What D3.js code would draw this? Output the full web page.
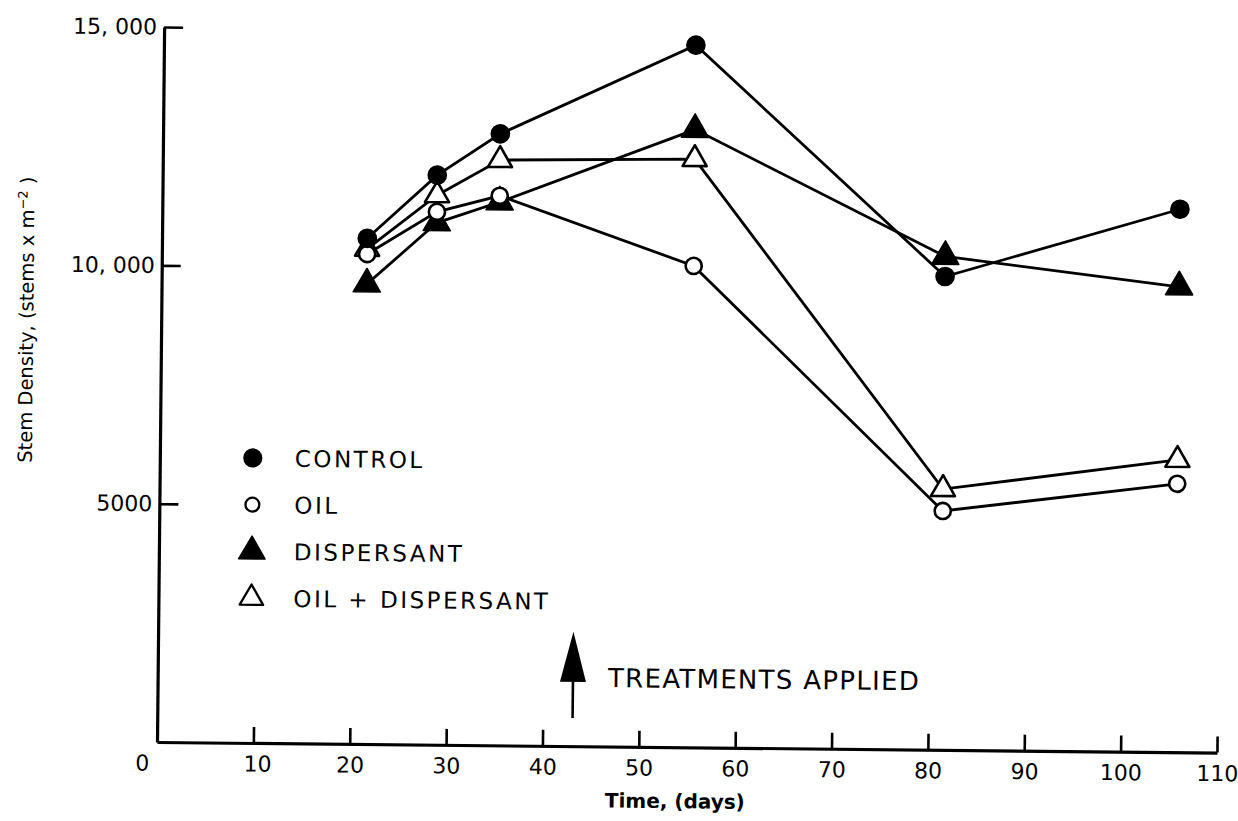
<!DOCTYPE html>
<html>
<head>
<meta charset="utf-8">
<script src="https://cdn.jsdelivr.net/npm/d3@7"></script>
<style>
  body { margin: 0; background: #fff; }
  svg text { font-family: "DejaVu Sans", sans-serif; fill: #000; }
</style>
</head>
<body>
<div id="chart"></div>
<script>
// DATA
const days = [21.3, 28.5, 35, 55.2, 81.3, 105.6];
const control = [10610, 11950, 12830, 14730, 9930, 11390];
const oil = [10280, 11180, 11530, 10100, 5010, 5630];
const dispersant = [9650, 10950, 11400, 12960, 10350, 9760];
const oilDispersant = [10390, 11530, 12280, 12340, 5470, 6130];

const seriesNames = ['CONTROL', 'OIL', 'DISPERSANT', 'OIL + DISPERSANT'];
const xTickValues = [0, 10, 20, 30, 40, 50, 60, 70, 80, 90, 100, 110];
const yTickValues = [5000, 10000, 15000];
const yTickLabels = ['5000', '10, 000', '15, 000'];

const treatmentDay = 43.1;
const treatmentArrow = [590, 1350, 2400]; // shaft bottom, head base, tip (stems)

const width = 1238, height = 821;
const margin = {left: 157, top: 27};
const plotW = 1060, plotH = 715;

const svg = d3.select('#chart').append('svg')
  .attr('width', width)
  .attr('height', height);

// the scanned figure is slightly rotated
const g = svg.append('g')
  .attr('transform', 'translate(' + margin.left + ',' + (margin.top + plotH) + ') rotate(0.57) translate(0,' + (-plotH) + ')');

// SCALES
const x = d3.scaleLinear().domain([0, 110]).range([0, plotW]);
const y = d3.scaleLinear().domain([0, 15000]).range([plotH, 0]);

// AXES
const xAxis = d3.axisBottom(x).tickValues(xTickValues)
  .tickSizeInner(-16).tickSizeOuter(0).tickPadding(13);

const xg = g.append('g')
  .attr('class', 'x axis')
  .attr('transform', 'translate(0,' + plotH + ')')
  .call(xAxis);

xg.selectAll('text')
  .style('font-size', '22px')
  .attr('dx', d => d === 0 ? -15 : (d === 10 ? 4 : 0));

const yAxis = d3.axisLeft(y).tickValues(yTickValues)
  .tickFormat((d, i) => yTickLabels[i])
  .tickSizeInner(-19).tickSizeOuter(0).tickPadding(7);

const yg = g.append('g')
  .attr('class', 'y axis')
  .call(yAxis);

yg.selectAll('text').style('font-size', '22px');

[xg, yg].forEach(a => {
  a.attr('font-family', null);
  a.select('.domain').attr('stroke-width', 3.2).attr('stroke', '#000');
  a.selectAll('.tick line').attr('stroke-width', 2.6).attr('stroke', '#000');
});

// AXIS TITLES
g.append('text')
  .attr('x', x(53.8))
  .attr('y', plotH + 61)
  .attr('text-anchor', 'middle')
  .style('font-size', '20px')
  .style('font-weight', 'bold')
  .text('Time, (days)');

const yTitle = g.append('text')
  .attr('transform', 'translate(-128,' + (plotH - 421) + ') rotate(-90)')
  .attr('text-anchor', 'middle')
  .style('font-size', '19.5px');
yTitle.append('tspan').text('Stem Density,  (stems x m');
yTitle.append('tspan').attr('baseline-shift', 'super').style('font-size', '13px').text('\u22122');
yTitle.append('tspan').text(' )');

// SERIES
const series = [
  {name: seriesNames[0], values: control, shape: d3.symbolCircle, size: 260, filled: true},
  {name: seriesNames[1], values: oil, shape: d3.symbolCircle, size: 205, filled: false},
  {name: seriesNames[2], values: dispersant, shape: d3.symbolTriangle, size: 320, filled: true},
  {name: seriesNames[3], values: oilDispersant, shape: d3.symbolTriangle, size: 250, filled: false}
];

const line = d3.line()
  .x((d, i) => x(days[i]))
  .y(d => y(d));

g.selectAll('.series-line')
  .data(series)
  .enter().append('path')
  .attr('class', 'series-line')
  .attr('d', d => line(d.values))
  .attr('fill', 'none')
  .attr('stroke', '#000')
  .attr('stroke-width', 2.8);

// draw order: dispersant, oil+dispersant, oil, control
const drawOrder = [series[2], series[3], series[1], series[0]];

drawOrder.forEach(s => {
  g.append('g').selectAll('path')
    .data(s.values)
    .enter().append('path')
    .attr('transform', (d, i) => 'translate(' + x(days[i]) + ',' + y(d) + ')')
    .attr('d', d3.symbol(s.shape, s.size))
    .attr('fill', s.filled ? '#000' : '#fff')
    .attr('stroke', '#000')
    .attr('stroke-linejoin', 'round')
    .attr('stroke-width', s.filled ? 1.5 : 2.6);
});

// LEGEND
const legend = g.append('g')
  .attr('class', 'legend')
  .attr('transform', 'translate(93,430)')
  .selectAll('g').data(series)
  .enter().append('g')
  .attr('transform', (d, i) => 'translate(0,' + i * 46.7 + ')');

legend.append('path')
  .attr('d', d => d3.symbol(d.shape, d.name === 'OIL' ? 150 : d.size * 0.95)())
  .attr('fill', d => d.filled ? '#000' : '#fff')
  .attr('stroke', '#000')
  .attr('stroke-linejoin', 'round')
  .attr('stroke-width', d => d.filled ? 1.5 : 2.3);

legend.append('text')
  .attr('x', 42)
  .attr('y', 8.5)
  .style('font-size', '23px')
  .style('letter-spacing', '2.5px')
  .text(d => d.name);

// TREATMENT ARROW
const ax = x(treatmentDay);
g.append('line')
  .attr('x1', ax).attr('x2', ax)
  .attr('y1', y(treatmentArrow[0])).attr('y2', y(treatmentArrow[1]))
  .attr('stroke', '#000')
  .attr('stroke-width', 2.6);

g.append('path')
  .attr('d', 'M' + (ax - 13) + ',' + y(treatmentArrow[1]) +
    'L' + ax + ',' + y(treatmentArrow[2]) +
    'L' + (ax + 13) + ',' + y(treatmentArrow[1]) + 'Z')
  .attr('fill', '#000');

g.append('text')
  .attr('x', ax + 35)
  .attr('y', y(treatmentArrow[1]) + 5)
  .style('font-size', '26px')
  .style('letter-spacing', '1.3px')
  .text('TREATMENTS APPLIED');
</script>
</body>
</html>
